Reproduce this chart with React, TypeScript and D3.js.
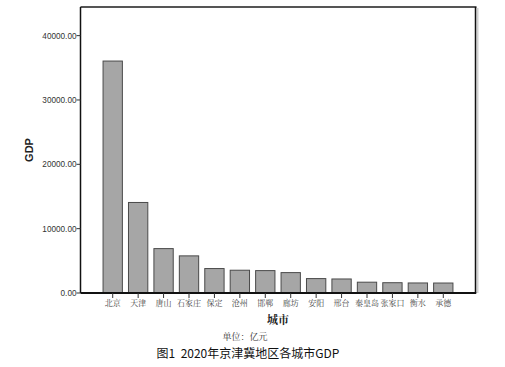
import React from "react";
import * as d3 from "d3";

const cities = ["北京", "天津", "唐山", "石家庄", "保定", "沧州", "邯郸", "廊坊", "安阳", "邢台", "秦皇岛", "张家口", "衡水", "承德"];
const gdp = [36050, 14070, 6900, 5770, 3800, 3540, 3480, 3170, 2240, 2180, 1680, 1600, 1560, 1550];
const yTicks = [0, 10000, 20000, 30000, 40000];

const W = 505, H = 367;
const left = 80.5, right = 475.5, top = 7, bottom = 293;

export default function App() {
  const y = d3.scaleLinear().domain([0, 44450]).range([bottom, top]);
  const x = d3.scaleBand<string>().domain(cities).range([100, 456]).paddingInner(0.24).paddingOuter(0.12);
  const fmt = d3.format(".2f");
  const cjk = "'Noto Serif CJK SC', 'Noto Sans CJK SC', serif";
  return (
    <svg width={W} height={H} style={{ position: "absolute", left: 0, top: 0, background: "#fff" }}>
      <line x1={right + 2} x2={right + 2} y1={top + 1} y2={bottom} stroke="#d0d0d0" strokeWidth={2} />
      {cities.map((c, i) => (
        <rect key={c} x={x(c)} y={y(gdp[i])} width={x.bandwidth()} height={y(0) - y(gdp[i])}
          fill="#a6a6a6" stroke="#4a4a4a" strokeWidth={1} />
      ))}
      <line x1={left} x2={right + 1} y1={top} y2={top} stroke="#555" strokeWidth={2} />
      <line x1={right} x2={right} y1={top} y2={bottom} stroke="#111" strokeWidth={1.5} />
      <line x1={left} x2={left} y1={top} y2={bottom} stroke="#111" strokeWidth={1.5} />
      <line x1={left} x2={right + 0.75} y1={bottom} y2={bottom} stroke="#111" strokeWidth={1.8} />
      {yTicks.map(t => (
        <g key={t}>
          <line x1={left - 4} x2={left} y1={y(t)} y2={y(t)} stroke="#333" strokeWidth={1} />
          <text x={left - 4} y={y(t)} dy="0.35em" textAnchor="end" fontSize={8.2}
            fontFamily="'Liberation Sans', Arial, sans-serif" fill="#333">{fmt(t)}</text>
        </g>
      ))}
      {cities.map(c => {
        const cx = (x(c) ?? 0) + x.bandwidth() / 2;
        return (
          <g key={c}>
            <line x1={cx} x2={cx} y1={bottom} y2={bottom + 5} stroke="#333" strokeWidth={1} />
            <text x={cx} y={bottom + 10} dy="0.35em" textAnchor="middle" fontSize={8}
              fontFamily={cjk} fill="#444">{c}</text>
          </g>
        );
      })}
      <text transform={`translate(29,150) rotate(-90)`} textAnchor="middle" dy="0.35em" fontSize={11}
        fontWeight="bold" fontFamily="'Liberation Sans', Arial, sans-serif" fill="#222">GDP</text>
      <text x={278} y={320} dy="0.35em" textAnchor="middle" fontSize={11} fontWeight="bold"
        fontFamily={cjk} fill="#222">城市</text>
      <text x={245} y={337} dy="0.35em" textAnchor="middle" fontSize={9}
        fontFamily={cjk} fill="#333">单位：亿元</text>
      <text x={248} y={354} dy="0.35em" textAnchor="middle" fontSize={12}
        fontFamily="'Noto Sans CJK SC', sans-serif" fill="#111">{"图1\u00a0\u00a02020年京津冀地区各城市GDP"}</text>
    </svg>
  );
}
